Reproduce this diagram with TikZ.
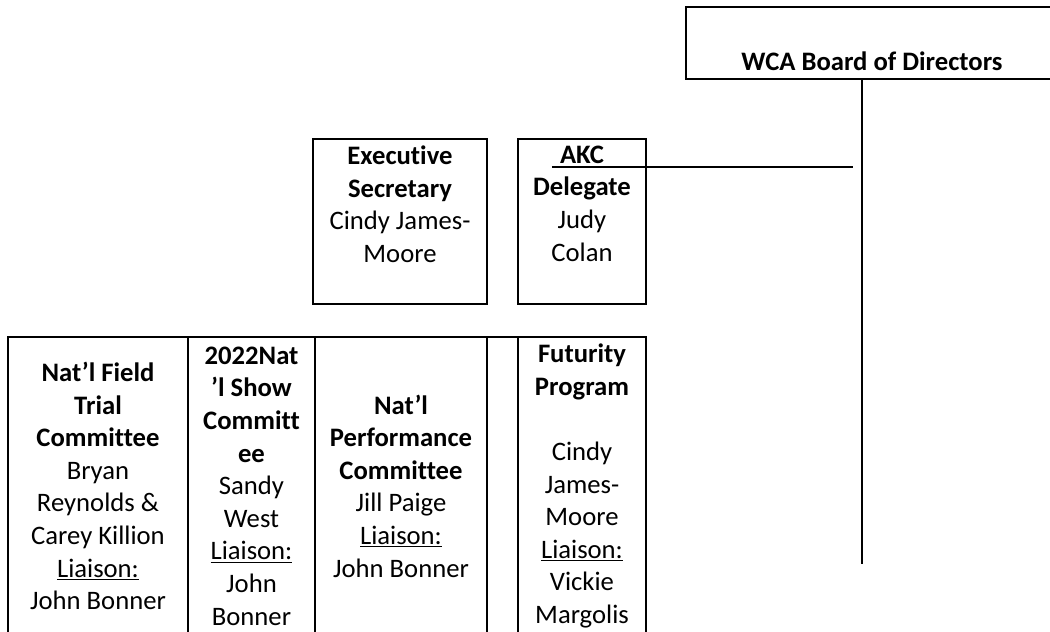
\documentclass[tikz,border=0pt]{standalone}
\usepackage{fontspec}
\setmainfont{Carlito}[RawFeature={-liga;-clig;-dlig;-calt}]
\tikzset{
  orgbox/.style={draw,black,line width=1.1pt,inner sep=0pt},
  cell/.style={orgbox,minimum height=223.5pt,align=center,font=\fontsize{20}{24.45}\selectfont},
  boxtext/.style={inner sep=0pt,align=center,font=\fontsize{20}{24.45}\selectfont},
  link/.style={black,line width=1.1pt}
}
\begin{document}
\begin{tikzpicture}[x=0.75pt,y=-0.75pt]
\useasboundingbox (0,0) rectangle (1050,632);

% board at the top right
\node[orgbox,minimum width=279pt,minimum height=54pt,align=center,font=\fontsize{20}{24.45}\selectfont] (board) at (872,43) {\strut\\ \textbf{WCA Board of Directors}};
\coordinate (stemend) at (862,564);
\draw[link] (board.south -| stemend) -- (stemend);

% officers
\node[orgbox,minimum width=130.5pt,minimum height=123.75pt] (exec) at (400,221.5) {};
\node[boxtext,anchor=north] (exectext) at ([yshift=-5.5pt]exec.north) {\textbf{Executive}\\ \textbf{Secretary}\\ Cindy James-\\ Moore};
\node[orgbox,minimum width=96pt,minimum height=123.75pt] (akc) at (582,221.5) {};
\node[boxtext,anchor=north] (akctext) at ([yshift=-5.5pt]akc.north) {\textbf{AKC}\\ \textbf{Delegate}\\ Judy\\ Colan};
\coordinate (akcend) at (853,167);
\draw[link] ([xshift=26pt]akc.west |- akcend) -- (akcend);

% committees
\node[cell,minimum width=135pt] (fieldtrial) at (98,486) {\textbf{Nat’l Field}\\ \textbf{Trial}\\ \textbf{Committee}\\ Bryan\\ Reynolds \&\\ Carey Killion\\ \underline{Liaison:}\\ John Bonner};
\node[cell,minimum width=95.25pt] (show) at (251.5,486) {\textbf{2022Nat}\\ \textbf{’l Show}\\ \textbf{Committ}\\ \textbf{ee}\\ Sandy\\ West\\ \underline{Liaison:}\\ John\\ Bonner};
\node[cell,minimum width=129pt] (performance) at (401,486) {\textbf{Nat’l}\\ \textbf{Performance}\\ \textbf{Committee}\\ Jill Paige\\ \underline{Liaison:}\\ John Bonner};
\node[cell,minimum width=23.25pt] (spare) at (502.5,486) {};
\node[cell,minimum width=96pt] (futurity) at (582,486) {\textbf{Futurity}\\ \textbf{Program}\\ \mbox{}\\ Cindy\\ James-\\ Moore\\ \underline{Liaison:}\\ Vickie\\ Margolis};
\end{tikzpicture}
\end{document}
